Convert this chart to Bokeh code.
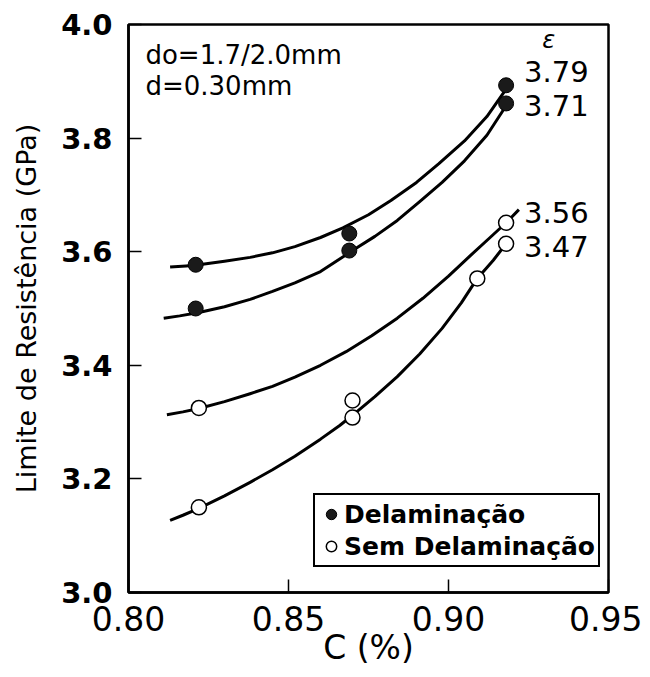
from bokeh.plotting import figure
from bokeh.models import Legend, LegendItem, Label, FixedTicker
from bokeh.embed import file_html
from bokeh.resources import INLINE

# ---- data ----
x_ticks = [0.80, 0.85, 0.90, 0.95]
y_ticks = [3.0, 3.2, 3.4, 3.6, 3.8, 4.0]

# measured points: with delamination (filled)
del_x = [0.821, 0.821, 0.869, 0.869, 0.918, 0.918]
del_y = [3.577, 3.500, 3.632, 3.602, 3.893, 3.861]

# measured points: without delamination (open)
sem_x = [0.822, 0.822, 0.870, 0.870, 0.909, 0.918, 0.918]
sem_y = [3.325, 3.150, 3.338, 3.308, 3.553, 3.651, 3.614]

# fitted curves
c1_x = [0.813, 0.818, 0.822, 0.830, 0.838, 0.845, 0.852, 0.860, 0.867, 0.875, 0.882, 0.890, 0.897, 0.905, 0.912, 0.9185]
c1_y = [3.573, 3.575, 3.577, 3.583, 3.590, 3.598, 3.609, 3.625, 3.642, 3.665, 3.690, 3.722, 3.755, 3.795, 3.838, 3.890]

c2_x = [0.811, 0.816, 0.822, 0.830, 0.838, 0.845, 0.852, 0.860, 0.866, 0.870, 0.877, 0.884, 0.891, 0.898, 0.905, 0.912, 0.918]
c2_y = [3.483, 3.487, 3.493, 3.503, 3.516, 3.530, 3.545, 3.565, 3.587, 3.602, 3.627, 3.655, 3.688, 3.722, 3.760, 3.805, 3.857]

c3_x = [0.812, 0.817, 0.822, 0.830, 0.838, 0.845, 0.852, 0.860, 0.868, 0.876, 0.884, 0.892, 0.900, 0.907, 0.913, 0.918, 0.922]
c3_y = [3.313, 3.318, 3.324, 3.336, 3.350, 3.363, 3.379, 3.400, 3.424, 3.452, 3.483, 3.518, 3.557, 3.594, 3.625, 3.651, 3.674]

c4_x = [0.813, 0.817, 0.822, 0.830, 0.838, 0.845, 0.852, 0.860, 0.866, 0.870, 0.877, 0.884, 0.891, 0.898, 0.904, 0.909, 0.914, 0.918]
c4_y = [3.127, 3.136, 3.148, 3.170, 3.194, 3.216, 3.240, 3.270, 3.294, 3.312, 3.345, 3.380, 3.420, 3.465, 3.510, 3.553, 3.585, 3.614]

end_labels = ["3.79", "3.71", "3.56", "3.47"]
end_label_y = [3.917, 3.857, 3.669, 3.609]

FONT = "DejaVu Sans"

p = figure(frame_width=480, frame_height=568,
           x_range=(0.80, 0.95), y_range=(3.0, 4.0),
           output_backend="svg", toolbar_location=None,
           min_border_left=128, min_border_right=34,
           min_border_top=24, min_border_bottom=76)

p.background_fill_color = "white"
p.border_fill_color = "white"
p.grid.visible = False
p.outline_line_color = "black"
p.outline_line_width = 2.5

# axes
p.xaxis.ticker = FixedTicker(ticks=x_ticks)
p.yaxis.ticker = FixedTicker(ticks=y_ticks)
p.xaxis.major_label_overrides = {0.80: "0.80", 0.85: "0.85", 0.90: "0.90", 0.95: "0.95"}
p.yaxis.major_label_overrides = {3.0: "3.0", 3.2: "3.2", 3.4: "3.4", 3.6: "3.6", 3.8: "3.8", 4.0: "4.0"}
for ax in (p.xaxis, p.yaxis):
    ax.axis_line_color = "black"
    ax.axis_line_width = 2.5
    ax.major_tick_in = 13
    ax.major_tick_out = 0
    ax.major_tick_line_width = 1.5
    ax.minor_tick_line_color = None
    ax.major_label_text_color = "black"
    ax.axis_label_text_color = "black"
    ax.axis_label_text_font = FONT
    ax.major_label_text_font = FONT
    ax.axis_label_text_font_style = "normal"

p.xaxis.major_label_text_font_size = "33px"
p.xaxis.major_label_standoff = 13
p.xaxis.axis_label = "C (%)"
p.xaxis.axis_label_text_font_size = "33px"
p.xaxis.axis_label_standoff = -6

p.yaxis.major_label_text_font_size = "29px"
p.yaxis.major_label_text_font_style = "bold"
p.yaxis.major_label_standoff = 16
p.yaxis.axis_label = "Limite de Resistência (GPa)"
p.yaxis.axis_label_text_font_size = "27px"
p.yaxis.axis_label_standoff = 16

# curves
for cx, cy in ((c1_x, c1_y), (c2_x, c2_y), (c3_x, c3_y), (c4_x, c4_y)):
    p.line(cx, cy, line_color="black", line_width=3, line_join="round")

r_del = p.scatter(del_x, del_y, size=15, marker="circle",
                  fill_color="#1a1a1a", line_color="black", line_width=1)
r_sem = p.scatter(sem_x, sem_y, size=15, marker="circle",
                  fill_color="white", line_color="black", line_width=1.5)

# annotations
p.add_layout(Label(x=0.8053, y=3.947, text="do=1.7/2.0mm", text_font=FONT,
                   text_font_size="26px", text_baseline="middle", text_color="black"))
p.add_layout(Label(x=0.8053, y=3.891, text="d=0.30mm", text_font=FONT,
                   text_font_size="26px", text_baseline="middle", text_color="black"))
p.add_layout(Label(x=0.9313, y=3.972, text="ε", text_font=FONT, text_font_style="italic",
                   text_font_size="24px", text_baseline="middle", text_align="center",
                   text_color="black"))
for t, yy in zip(end_labels, end_label_y):
    p.add_layout(Label(x=0.9236, y=yy, text=t, text_font=FONT, text_font_size="29px",
                       text_baseline="middle", text_color="black"))

legend = Legend(items=[LegendItem(label="Delaminação", renderers=[r_del]),
                       LegendItem(label="Sem Delaminação", renderers=[r_sem])],
                location=(185, 25))
legend.label_text_font = FONT
legend.label_text_font_style = "bold"
legend.label_text_font_size = "25px"
legend.label_text_color = "black"
legend.border_line_color = "black"
legend.border_line_alpha = 1
legend.border_line_width = 2
legend.background_fill_alpha = 1
legend.padding = 3
legend.spacing = 0
legend.glyph_width = 26
legend.glyph_height = 32
legend.label_standoff = 0
legend.margin = 0
p.add_layout(legend, "center")

open("out.html", "w").write(file_html(p, INLINE))
